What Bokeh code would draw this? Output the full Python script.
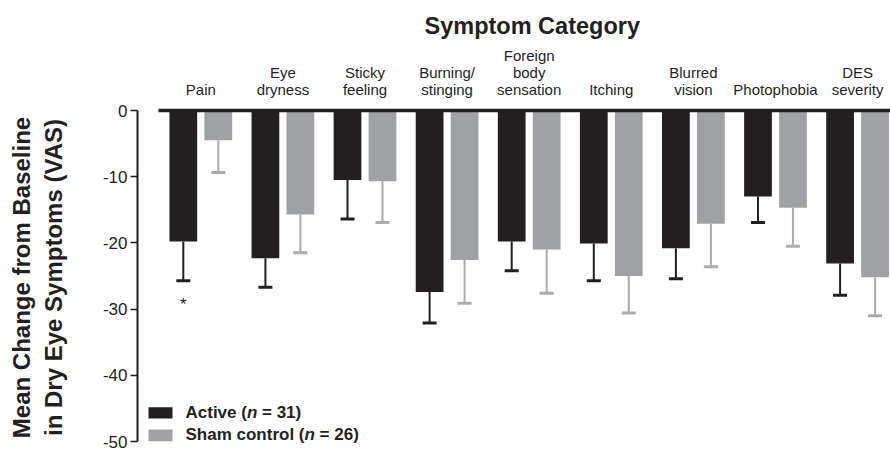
import numpy as np
from bokeh.plotting import figure
from bokeh.models import (Range1d, FixedTicker, Whisker, ColumnDataSource,
                          TeeHead, Label, BoxAnnotation)
from bokeh.embed import file_html
from bokeh.resources import INLINE
from bokeh.core.properties import value

# ---------------- data ----------------
categories = ["Pain", "Eye\ndryness", "Sticky\nfeeling", "Burning/\nstinging",
              "Foreign\nbody\nsensation", "Itching", "Blurred\nvision",
              "Photophobia", "DES\nseverity"]
active_mean = [-19.8, -22.3, -10.5, -27.4, -19.8, -20.1, -20.8, -13.0, -23.1]
active_sem = [5.9, 4.4, 5.9, 4.7, 4.4, 5.6, 4.6, 3.9, 4.8]
sham_mean = [-4.5, -15.7, -10.7, -22.6, -21.0, -25.0, -17.1, -14.7, -25.2]
sham_sem = [4.85, 5.8, 6.2, 6.5, 6.6, 5.6, 6.5, 5.8, 5.8]
series_names = ["Active", "Sham control"]
series_n = [31, 26]
y_ticks = [0, -10, -20, -30, -40, -50]
y_tick_labels = ["0", "-10", "-20", "-30", "-40", "-50"]
sig_index = [0]          # Pain, active group
sig_y = [-29.35]
title_text = "Symptom Category"
y_label = "Mean Change from Baseline\nin Dry Eye Symptoms (VAS)"

# ---------------- style ----------------
FONT = "Liberation Sans"
ACTIVE = "#231f20"
SHAM = "#a0a1a5"
SHAM_ERR = "#aaacaf"
OFF = 0.213
BW = 0.338

idx = np.arange(len(categories))
a_mean = np.array(active_mean)
s_mean = np.array(sham_mean)

p = figure(width=890, height=451,
           x_range=Range1d(-0.771, 8.401), y_range=Range1d(-50.45, 0),
           x_axis_location="above",
           output_backend="svg", toolbar_location=None,
           min_border_left=137, min_border_right=0,
           min_border_top=110, min_border_bottom=7)
p.outline_line_color = None
p.grid.visible = False
p.background_fill_color = "white"
p.border_fill_color = "white"

p.title.text = title_text
p.title.align = "left"
p.title.offset = 287
p.title.text_font = FONT
p.title.text_font_size = "23.5px"
p.title.text_font_style = "bold"
p.title.text_color = "#231f20"

src_a = ColumnDataSource(dict(x=idx - OFF, top=np.zeros(len(idx)), bottom=a_mean,
                              low=a_mean - np.array(active_sem)))
src_s = ColumnDataSource(dict(x=idx + OFF, top=np.zeros(len(idx)), bottom=s_mean,
                              low=s_mean - np.array(sham_sem)))

p.vbar(x="x", top="top", bottom="bottom", width=BW, source=src_a,
       fill_color=ACTIVE, line_color=None)
p.vbar(x="x", top="top", bottom="bottom", width=BW, source=src_s,
       fill_color=SHAM, line_color=None)

for src, col in ((src_a, ACTIVE), (src_s, SHAM_ERR)):
    w = Whisker(base="x", upper="bottom", lower="low", source=src,
                dimension="height", line_color=col, line_width=2,
                upper_head=None,
                lower_head=TeeHead(size=14, line_color=col, line_width=3),
                level="overlay")
    p.add_layout(w)

# significance star
p.text(x=[idx[i] - OFF for i in sig_index], y=sig_y, text=["*"] * len(sig_index),
       text_align="center", text_baseline="alphabetic",
       text_font=value(FONT), text_font_size="17px", text_color="#231f20")

# top (category) axis
xa = p.xaxis[0]
xa.ticker = FixedTicker(ticks=[int(i) for i in idx])
xa.major_label_overrides = {int(i): c for i, c in zip(idx, categories)}
xa.bounds = (-0.515, 8.401)
xa.axis_line_width = 3.3
xa.axis_line_color = "#231f20"
xa.major_tick_line_color = None
xa.minor_tick_line_color = None
xa.major_label_text_font = FONT
xa.major_label_text_font_size = "15px"
xa.major_label_text_color = "#231f20"
xa.major_label_text_line_height = 1.0
xa.major_label_standoff = 7

# y axis
ya = p.yaxis[0]
ya.ticker = FixedTicker(ticks=y_ticks)
ya.major_label_overrides = {t: l for t, l in zip(y_ticks, y_tick_labels)}
ya.bounds = (-50, 0)
ya.axis_line_width = 2
ya.axis_line_color = "#231f20"
ya.major_tick_line_color = "#231f20"
ya.major_tick_line_width = 1.5
ya.major_tick_out = 7
ya.major_tick_in = 0
ya.minor_tick_line_color = None
ya.major_label_text_font = FONT
ya.major_label_text_font_size = "17px"
ya.major_label_text_color = "#231f20"
ya.major_label_standoff = 3
ya.axis_label = y_label
ya.axis_label_text_font = FONT
ya.axis_label_text_font_size = "24px"
ya.axis_label_text_font_style = "bold"
ya.axis_label_text_color = "#231f20"
ya.axis_label_standoff = 33
ya.axis_label_text_line_height = 1.2

# legend
sw_left, sw_right = -0.637, -0.3447
sw_rows = [(-44.82, -46.53), (-48.19, -49.95)]
txt_x = -0.1864
txt_y = [-45.62, -48.94]
fs = 17
for k, (name, n, col) in enumerate(zip(series_names, series_n, [ACTIVE, SHAM])):
    top, bot = sw_rows[k]
    p.add_layout(BoxAnnotation(left=sw_left, right=sw_right, top=top, bottom=bot,
                               fill_color=col, fill_alpha=1.0, line_color=None,
                               level="overlay"))
    part1 = f"{name} ("
    w1 = {"Active": 3.612, "Sham control": 7.001}[name] * fs
    p.add_layout(Label(x=txt_x, y=txt_y[k], text=part1, text_baseline="middle",
                       text_font=FONT, text_font_size=f"{fs}px",
                       text_font_style="bold", text_color="#231f20"))
    p.add_layout(Label(x=txt_x, y=txt_y[k], x_offset=w1, text="n",
                       text_baseline="middle", text_font=FONT,
                       text_font_size=f"{fs}px", text_font_style="bold italic",
                       text_color="#231f20"))
    p.add_layout(Label(x=txt_x, y=txt_y[k], x_offset=w1 + 0.611 * fs + 0.278 * fs,
                       text=f"= {n})", text_baseline="middle", text_font=FONT,
                       text_font_size=f"{fs}px", text_font_style="bold",
                       text_color="#231f20"))

open("out.html", "w").write(file_html(p, INLINE))
